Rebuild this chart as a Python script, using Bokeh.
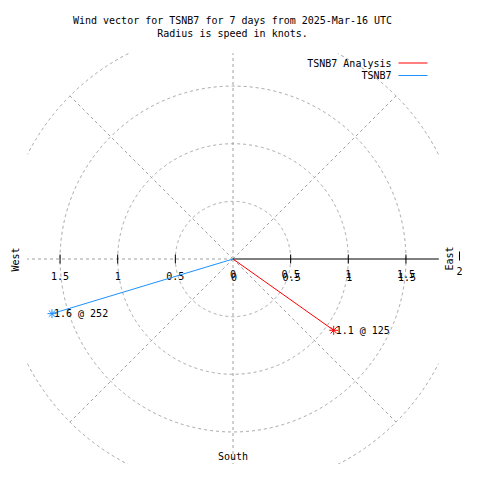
import numpy as np
from bokeh.plotting import figure
from bokeh.models import Range1d
from bokeh.embed import file_html
from bokeh.resources import INLINE
from bokeh.core.properties import value

# ---------------- data ----------------
title_lines = ["Wind vector for TSNB7 for 7 days from 2025-Mar-16 UTC",
               "Radius is speed in knots."]
series_names = ["TSNB7 Analysis", "TSNB7"]
series_colors = ["#ff0000", "#1e90ff"]
speeds = [1.07, 1.64]          # knots
directions = [125.3, 253.2]    # degrees, compass
point_labels = ["1.1 @ 125", "1.6 @ 252"]
ring_radii = [0.5, 1.0, 1.5, 2.0]
tick_values = [0.5, 1.0, 1.5]
tick_labels = ["0.5", "1", "1.5"]
spoke_angles = [0, 45, 135, 180, 225, 270, 315]
compass_names = ["West", "East", "South"]

# ---------------- layout helpers ----------------
W = H = 464
S = 115.3                 # pixels per knot
CX, CY = 232.5, 258.5     # picture position of the centre
B = 1.785                 # clip half-size of the polar box (knots)
FONT = value("DejaVu Sans Mono")
FS = "10px"


def gx(px):
    return (px - CX) / S


def gy(py):
    return (CY - py) / S


p = figure(width=W, height=H, output_backend="svg", toolbar_location=None,
           x_range=Range1d(gx(0), gx(W)), y_range=Range1d(gy(H), gy(0)),
           min_border=0, outline_line_color=None)
p.axis.visible = False
p.grid.visible = False

grid_kw = dict(line_color="#a0a0a0", line_width=1, line_dash="3 3")

# rings (clipped to the box)
t = np.linspace(0, 2 * np.pi, 1441)
for r in ring_radii:
    xs = r * np.cos(t)
    ys = r * np.sin(t)
    mask = (np.abs(xs) > B) | (np.abs(ys) > B)
    xs = np.where(mask, np.nan, xs)
    ys = np.where(mask, np.nan, ys)
    p.line(xs, ys, **grid_kw)

# spokes
R = max(ring_radii)
for a in spoke_angles:
    th = np.deg2rad(a)
    ex, ey = R * np.sin(th), R * np.cos(th)
    k = min(1.0, B / max(abs(ex), abs(ey)))
    p.line([0, ex * k], [0, ey * k], **grid_kw)

# radial axis (east)
p.line([0, B], [0, 0], line_color="black", line_width=1)
tk = 4.5 / S
for v in tick_values:
    for sgn in (-1, 1):
        p.line([sgn * v, sgn * v], [-tk, tk], line_color="black", line_width=1)

# tick labels
ly = gy(275.5)
p.text(x=[-v for v in tick_values], y=[ly] * len(tick_values), text=tick_labels,
       text_font=FONT, text_font_size=FS, text_align="center", text_baseline="middle")
for dxp, dyp in ((0, -2), (1, 1)):
    p.text(x=[v + dxp / S for v in tick_values], y=[ly - dyp / S] * len(tick_values),
           text=tick_labels, text_font=FONT, text_font_size=FS,
           text_align="center", text_baseline="middle")
    p.text(x=[dxp / S], y=[ly - dyp / S], text=["0"], text_font=FONT, text_font_size=FS,
           text_align="center", text_baseline="middle")

# compass labels
p.text(x=[gx(15)], y=[gy(259)], text=[compass_names[0]], angle=np.pi / 2,
       text_font=FONT, text_font_size=FS, text_align="center", text_baseline="middle")
p.text(x=[gx(449)], y=[gy(258)], text=[compass_names[1]], angle=np.pi / 2,
       text_font=FONT, text_font_size=FS, text_align="center", text_baseline="middle")
p.text(x=[gx(459)], y=[gy(270)], text=["2"],
       text_font=FONT, text_font_size=FS, text_align="center", text_baseline="middle")
p.line([gx(459), gx(459)], [gy(251), gy(260)], line_color="black", line_width=1)
p.text(x=[0], y=[gy(456)], text=[compass_names[2]],
       text_font=FONT, text_font_size=FS, text_align="center", text_baseline="middle")

# title
p.text(x=[gx(232)] * 2, y=[gy(20), gy(33)], text=title_lines,
       text_font=FONT, text_font_size=FS, text_align="center", text_baseline="middle")

# vectors
for spd, d, col, lab in zip(speeds, directions, series_colors, point_labels):
    th = np.deg2rad(d)
    ex, ey = spd * np.sin(th), spd * np.cos(th)
    p.line([0, ex], [0, ey], line_color=col, line_width=1)
    p.scatter([ex], [ey], marker="asterisk", size=9, line_color=col, line_width=1)
    p.text(x=[ex], y=[ey], text=[lab], x_offset=2, text_font=FONT, text_font_size=FS,
           text_align="left", text_baseline="middle")

# legend (label left, line right)
for i, (name, col) in enumerate(zip(series_names, series_colors)):
    yy = gy(62.5 + 12.5 * i)
    p.text(x=[gx(391)], y=[yy], text=[name], text_font=FONT, text_font_size=FS,
           text_align="right", text_baseline="middle")
    p.line([gx(398), gx(427)], [yy, yy], line_color=col, line_width=1)

open("out.html", "w").write(file_html(p, INLINE))
